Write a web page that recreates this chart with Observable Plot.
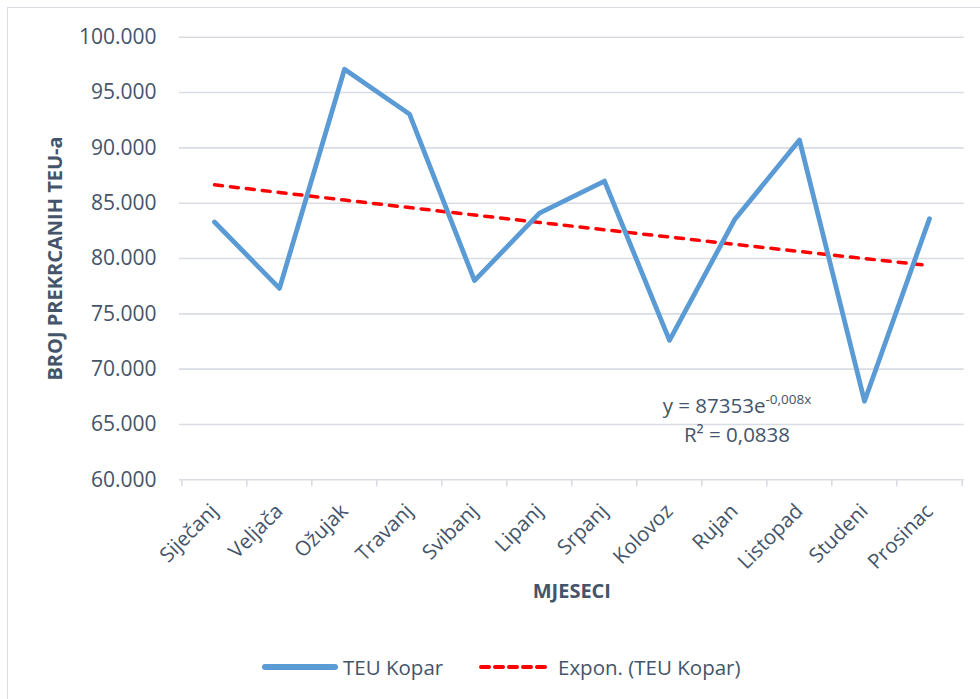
<!DOCTYPE html>
<html><head><meta charset="utf-8">
<script src="https://cdn.jsdelivr.net/npm/d3@7"></script>
<script src="https://cdn.jsdelivr.net/npm/@observablehq/plot@0.6"></script>
<style>
html,body{margin:0;padding:0;background:#fff;overflow:hidden;width:980px;height:699px;}
#wrap{position:relative;width:980px;height:699px;font-family:"Open Sans",sans-serif;color:#44546A;}
#frame{position:absolute;left:7px;top:7px;width:1000px;height:1000px;border:1.5px solid #D9DDE3;box-sizing:border-box;}
#chart{position:absolute;left:0;top:0;}
.leg{position:absolute;top:652px;height:30px;display:flex;align-items:center;font-size:20.5px;white-space:nowrap;}
.leg svg{margin-right:5px;}
</style></head>
<body>
<div id="wrap">
  <div id="frame"></div>
  <div id="chart"></div>
  <div class="leg" style="left:262px"><svg width="76" height="10"><line x1="3" y1="5" x2="73" y2="5" stroke="#5B9BD5" stroke-width="6" stroke-linecap="round"/></svg><span>TEU Kopar</span></div>
  <div class="leg" style="left:479px"><svg width="74" height="10"><line x1="2" y1="5" x2="72" y2="5" stroke="#FF0000" stroke-width="4" stroke-dasharray="8,6" stroke-linecap="round"/></svg><span>Expon. (TEU Kopar)</span></div>
</div>
<script>
const months = ["Siječanj","Veljača","Ožujak","Travanj","Svibanj","Lipanj","Srpanj","Kolovoz","Rujan","Listopad","Studeni","Prosinac"];
const teu = [83300, 77300, 97100, 93050, 78000, 84100, 87000, 72600, 83500, 90700, 67100, 83600];
const trend = [86657, 85966, 85281, 84602, 83928, 83259, 82596, 81938, 81285, 80638, 79995, 79358];
const yTicks = [60000, 65000, 70000, 75000, 80000, 85000, 90000, 95000, 100000];
const yTitle = "BROJ PREKRCANIH TEU-a";
const xTitle = "MJESECI";
const eqMain = "y = 87353e";
const eqSup = "-0,008x";
const eqR2 = "R² = 0,0838";

const W = 980, H = 630, mL = 179, mR = 16.3, mT = 36.7, mB = H - 479.3;
const step = (W - mL - mR) / months.length;
const grid = "#D9DDE3";
const fmt = d => d3.format(",")(d).replace(/,/g, ".");
const data = months.map((m, i) => ({month: m, teu: teu[i], trend: trend[i]}));

const chart = Plot.plot({
  width: W, height: H,
  marginLeft: mL, marginRight: mR, marginTop: mT, marginBottom: mB,
  style: {fontFamily: "Open Sans", color: "#44546A", background: "transparent", overflow: "visible"},
  x: {type: "point", domain: months, padding: 0.5},
  y: {domain: [60000, 100000]},
  marks: [
    Plot.gridY(yTicks, {stroke: grid, strokeOpacity: 1, strokeWidth: 1.6}),
    Plot.ruleX(months, {x: d => d, y1: 60000, y2: 60000, dx: -step / 2, insetBottom: -7, stroke: grid, strokeWidth: 1.6}),
    Plot.ruleX(months.slice(-1), {x: d => d, y1: 60000, y2: 60000, dx: step / 2, insetBottom: -7, stroke: grid, strokeWidth: 1.6}),
    Plot.axisY(yTicks, {tickSize: 0, tickPadding: 23, tickFormat: fmt, fontSize: 21, label: null, fill: "#44546A"}),
    Plot.axisX({tickSize: 0, tickPadding: 28, tickRotate: -45, fontSize: 20.5, label: null, fill: "#44546A"}),
    Plot.line(data, {x: "month", y: "trend", stroke: "#FF0000", strokeWidth: 3.5, strokeDasharray: "8,8", strokeLinecap: "round"}),
    Plot.line(data, {x: "month", y: "teu", stroke: "#5B9BD5", strokeWidth: 4.8, strokeLinejoin: "round", strokeLinecap: "round"}),
    Plot.text([yTitle], {frameAnchor: "left", textAnchor: "middle", dx: -124, rotate: -90, fontSize: 20, fontWeight: "bold", fill: "#44546A"}),
    Plot.text([xTitle], {frameAnchor: "bottom", dy: 118, fontSize: 20, fontWeight: "bold", fill: "#44546A"})
  ]
});
document.getElementById("chart").appendChild(chart);

// trendline equation annotation
const xs = chart.scale("x"), ys = chart.scale("y");
const ex = xs.apply("Rujan") + 3;
const svg = d3.select(chart);
const t1 = svg.append("text").attr("x", ex).attr("y", ys.apply(66000))
  .attr("text-anchor", "middle").attr("font-family", "Open Sans").attr("font-size", 20.5).attr("fill", "#44546A");
t1.append("tspan").text(eqMain);
t1.append("tspan").attr("dy", -9).attr("font-size", 13.5).text(eqSup);
svg.append("text").attr("x", ex).attr("y", ys.apply(63400))
  .attr("text-anchor", "middle").attr("font-family", "Open Sans").attr("font-size", 20.5).attr("fill", "#44546A").text(eqR2);
</script>
</body></html>
